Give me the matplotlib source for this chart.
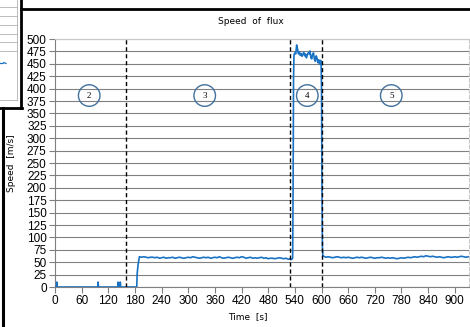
import numpy as np
import matplotlib.pyplot as plt
from matplotlib.lines import Line2D

# idle phase with a few short spikes, then the ramp up
t_start = [0, 3, 4, 5, 96, 97, 98, 141, 142, 143, 146, 147, 148, 184, 185, 187]
v_start = [0, 0, 10, 0, 0, 10, 0, 0, 10, 0, 0, 10, 0, 0, 27, 45]

# first plateau, every 5 s from 190 to 530
t_plat1 = np.arange(190, 531, 5)
v_plat1 = [61, 60, 61, 60, 59, 60, 60, 59, 60, 58,
           59, 60, 58, 59, 59, 60, 58, 59, 60, 59,
           58, 59, 60, 59, 61, 60, 59, 58, 59, 60,
           59, 60, 58, 59, 60, 59, 61, 59, 58, 59,
           60, 59, 58, 59, 60, 59, 61, 60, 58, 59,
           60, 58, 59, 58, 59, 60, 58, 59, 57, 58,
           58, 57, 58, 59, 58, 57, 58, 56, 57]

# high speed phase
t_peak = [531, 533, 535, 536, 537, 538, 540, 542, 544, 546, 548, 550, 552, 554,
          556, 558, 560, 562, 564, 566, 568, 570, 572, 574, 576, 578, 580, 582,
          584, 586, 588, 590, 592, 594, 596, 598, 599, 600, 601, 602, 603]
v_peak = [55, 56, 58, 200, 420, 468, 472, 470, 488, 480, 470, 474, 467, 471,
          465, 469, 473, 466, 470, 462, 468, 472, 470, 476, 462, 460, 470, 472,
          459, 455, 466, 461, 452, 458, 449, 457, 452, 400, 200, 80, 63]

# second plateau, every 5 s from 605 to 930
t_plat2 = np.arange(605, 931, 5)
v_plat2 = [62, 60, 61, 60, 59, 60, 61, 60, 59, 60,
           59, 60, 59, 58, 59, 60, 59, 60, 59, 58,
           59, 60, 59, 58, 59, 59, 60, 59, 58, 59,
           58, 59, 58, 57, 58, 59, 58, 59, 60, 59,
           60, 61, 60, 61, 62, 61, 63, 62, 61, 62,
           61, 60, 61, 60, 59, 60, 61, 60, 60, 61,
           60, 61, 62, 61, 60, 61]

time = np.concatenate([t_start, t_plat1, t_peak, t_plat2])
speed = np.concatenate([v_start, v_plat1, v_peak, v_plat2])

phase_bounds = [160, 528, 600]
phase_labels = ["2", "3", "4", "5"]
phase_label_x = [77, 337, 568, 757]
phase_label_y = 386

W, H = 470, 327
fig = plt.figure(figsize=(W / 100, H / 100), dpi=100)
ax = fig.add_axes([55 / W, 1 - 287 / H, (469 - 55) / W, (287 - 39) / H])

ax.plot(time, speed, color="#1a72c4", lw=1.2, zorder=3)

for xb in phase_bounds:
    ax.axvline(xb, color="black", lw=1.0, ls=(0, (3, 2)), zorder=4)

for lab, lx in zip(phase_labels, phase_label_x):
    ax.text(lx, phase_label_y, lab, ha="center", va="center", fontsize=6.5,
            family="Liberation Serif",
            bbox=dict(boxstyle="circle,pad=0.75", ec="#41719c", fc="none", lw=1.0))

ax.set_xlim(0, 932)
ax.set_ylim(0, 500)
ax.set_xticks(np.arange(0, 901, 60))
ax.set_yticks(np.arange(0, 501, 25))
ax.grid(axis="y", color="#808080", lw=0.8, zorder=0)
ax.tick_params(labelsize=8.5, length=4, width=0.8, color="#7f7f7f", pad=2)
for lbl in ax.get_xticklabels() + ax.get_yticklabels():
    lbl.set_family("Liberation Sans")

ax.spines["left"].set_color("#7f7f7f")
ax.spines["bottom"].set_color("#7f7f7f")
ax.spines["top"].set_color("#c8c8c8")
ax.spines["right"].set_color("#c8c8c8")
ax.spines["right"].set_linestyle((0, (3, 2)))

fig.text(251 / W, 1 - 22 / H, "Speed  of  flux", ha="center", va="center", fontsize=6.5)
fig.text(248 / W, 1 - 317 / H, "Time  [s]", ha="center", va="center", fontsize=6.5)
fig.text(11.5 / W, 1 - 163 / H, "Speed  [m/s]", ha="center", va="center", fontsize=6.5,
         rotation=90)

# screenshot frame and the edge of the neighbouring chart
def px_line(xs, ys, **kw):
    fig.add_artist(Line2D([x / W for x in xs], [1 - y / H for y in ys],
                          transform=fig.transFigure, **kw))

for gy in [7, 16, 25, 34, 42, 51]:
    px_line([0, 16.5], [gy, gy], color="#b0b0b0", lw=0.6)
px_line([0, 3, 4, 6], [63.5, 63.5, 62.5, 63.5], color="#1a72c4", lw=0.9)
px_line([16.5, 16.5], [0, 100], color="#b0b0b0", lw=0.6)
px_line([0, 16.5], [100, 100], color="#b0b0b0", lw=0.6)

px_line([21, 470], [8.7, 8.7], color="black", lw=2.0)
px_line([21, 21], [0, 108], color="black", lw=2.0)
px_line([0, 22], [108, 108], color="black", lw=2.0)
px_line([3, 3], [108, 327], color="black", lw=2.2)

fig.savefig("out.png", dpi=100)
